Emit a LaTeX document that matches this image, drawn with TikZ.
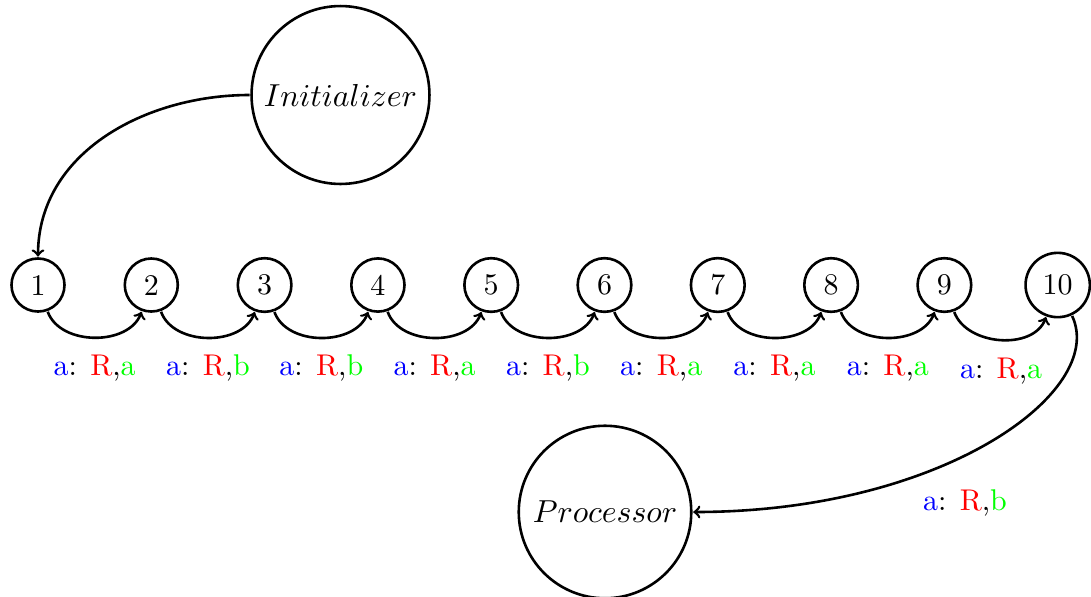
\documentclass[tikz,border=0pt]{standalone}
\usepackage{xcolor}
\usepackage{graphicx}
\newcommand\edgelab[1]{\textcolor{blue}{a}: \textcolor{red}{R},\textcolor{green}{#1}}
\newcommand\agentname[1]{\scalebox{1.06}{$#1$}}
\begin{document}
\begin{tikzpicture}[x=0.5pt, y=0.5pt,
  every node/.style={scale=1.5},
  state/.style={circle, draw, line width=1.3pt},
  agent/.style={state, minimum size=57.5pt},
  flow/.style={->, line width=1.3pt},
  tag/.style={anchor=base}]
\useasboundingbox (0,0) rectangle (1091,-596);

% the chain of numbered states
\foreach \i in {1,...,10}
  \node[state] (n\i) at ({38+(\i-1)*113.3},-285) {\i};

% source and sink
\node[agent] (init) at (340.5,-95) {\agentname{Initializer}};
\node[agent] (proc) at (605,-512) {\agentname{Processor}};

% transitions between consecutive states
\foreach \i in {1,...,9}{
  \pgfmathtruncatemacro\j{\i+1}
  \draw[flow] (n\i) to[out=-70,in=-110] (n\j);
}

% transition labels
\foreach \i/\c/\y in {1/a/375,2/b/375,3/b/375,4/a/375,5/b/375,6/a/375,7/a/375,8/a/375,9/a/378}
  \node[tag] (l\i) at ({94.7+(\i-1)*113.3},-\y) {\edgelab{\c}};

% entry and exit
\draw[flow] (init) to[out=180,in=90] (n1);
\draw[flow] (n10) to[out=-65,in=0,out looseness=0.5,in looseness=1.5] (proc);
\node[tag] (lp) at (965,-510) {\edgelab{b}};
\end{tikzpicture}
\end{document}
